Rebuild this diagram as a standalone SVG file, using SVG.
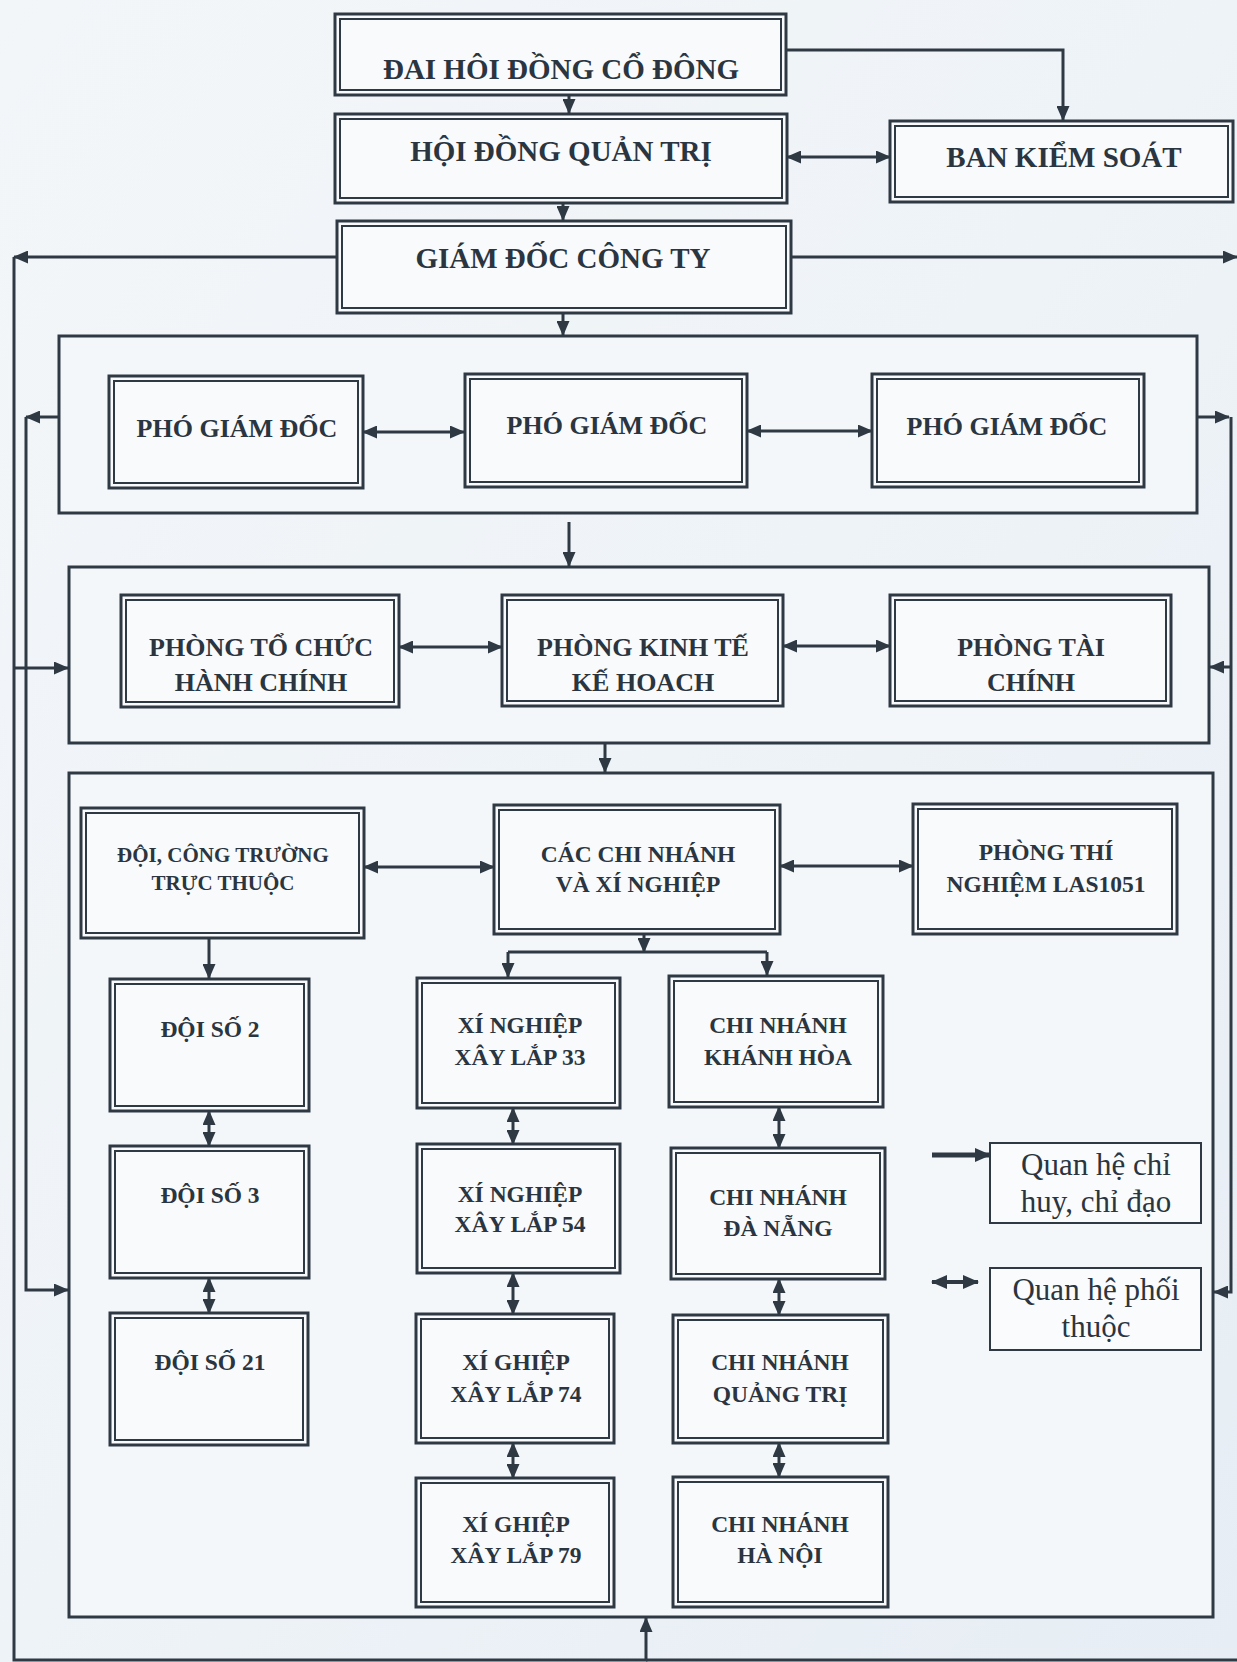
<svg xmlns="http://www.w3.org/2000/svg" width="1237" height="1662" viewBox="0 0 1237 1662">
<defs>
<style>
.o{fill:#f8fafc;stroke:#2e3943;stroke-width:3}
.i{fill:none;stroke:#2e3943;stroke-width:2}
.c{fill:#f4f7fa;stroke:#2e3943;stroke-width:3}
.lb{fill:#f9fbfc;stroke:#2e3943;stroke-width:2}
.t{font-family:"Liberation Serif","Times New Roman",serif;font-weight:bold;fill:#2b353f;text-anchor:middle}
.t1{font-size:29px}
.t2{font-size:26px}
.t3{font-size:23.5px}
.t4{font-size:21px}
.lg{font-family:"Liberation Serif","Times New Roman",serif;font-size:31px;fill:#2b353f;text-anchor:middle}
.ln{fill:none;stroke:#2e3943;stroke-width:3}
.e{marker-end:url(#ah)}
.b{marker-start:url(#ah);marker-end:url(#ah)}
</style>
<linearGradient id="bg" x1="0" y1="0" x2="1" y2="1"><stop offset="0" stop-color="#f3f6f9"/><stop offset="0.5" stop-color="#eef3f7"/><stop offset="1" stop-color="#e6edf4"/></linearGradient>
<marker id="ah" viewBox="0 0 15 13" refX="14" refY="6.5" markerWidth="15" markerHeight="13" markerUnits="userSpaceOnUse" orient="auto-start-reverse"><path d="M0,0L15,6.5L0,13z" fill="#2e3943"/></marker>
<marker id="ahL" viewBox="0 0 16 14" refX="15" refY="7" markerWidth="16" markerHeight="14" markerUnits="userSpaceOnUse" orient="auto-start-reverse"><path d="M0,0L16,7L0,14z" fill="#2e3943"/></marker>
</defs>
<rect x="0" y="0" width="1237" height="1662" fill="url(#bg)"/>

<!-- containers -->
<g id="khoi-pho-giam-doc"><rect class="c" x="59" y="336" width="1138" height="177"/></g>
<g id="khoi-phong-ban"><rect class="c" x="69" y="567" width="1140" height="176"/></g>
<g id="khoi-don-vi"><rect class="c" x="69" y="773" width="1144" height="844"/></g>

<!-- top nodes -->
<g id="dai-hoi"><rect class="o" x="335" y="14" width="451" height="81"/><rect class="i" x="340" y="19" width="441" height="71"/><text class="t t1" x="561" y="79">ĐAI HÔI ĐỒNG CỔ ĐÔNG</text></g>
<g id="hoi-dong-quan-tri"><rect class="o" x="335" y="114" width="452" height="89"/><rect class="i" x="340" y="119" width="442" height="79"/><text class="t t1" x="561" y="161">HỘI ĐỒNG QUẢN TRỊ</text></g>
<g id="ban-kiem-soat"><rect class="o" x="890" y="121" width="343" height="81"/><rect class="i" x="895" y="126" width="333" height="71"/><text class="t t1" x="1064" y="167">BAN KIỂM SOÁT</text></g>
<g id="giam-doc"><rect class="o" x="337" y="221" width="454" height="92"/><rect class="i" x="342" y="226" width="444" height="82"/><text class="t t1" x="563" y="268">GIÁM ĐỐC CÔNG TY</text></g>

<!-- pho giam doc -->
<g id="pgd1"><rect class="o" x="109" y="376" width="254" height="112"/><rect class="i" x="114" y="381" width="244" height="102"/><text class="t t2" x="237" y="437">PHÓ GIÁM ĐỐC</text></g>
<g id="pgd2"><rect class="o" x="465" y="374" width="282" height="113"/><rect class="i" x="470" y="379" width="272" height="103"/><text class="t t2" x="607" y="434">PHÓ GIÁM ĐỐC</text></g>
<g id="pgd3"><rect class="o" x="872" y="374" width="272" height="113"/><rect class="i" x="877" y="379" width="262" height="103"/><text class="t t2" x="1007" y="435">PHÓ GIÁM ĐỐC</text></g>

<!-- phong ban -->
<g id="phong-tchc"><rect class="o" x="121" y="595" width="278" height="112"/><rect class="i" x="126" y="600" width="268" height="102"/><text class="t t2" x="261" y="656">PHÒNG TỔ CHỨC</text><text class="t t2" x="261" y="691">HÀNH CHÍNH</text></g>
<g id="phong-ktkh"><rect class="o" x="502" y="595" width="281" height="111"/><rect class="i" x="507" y="600" width="271" height="101"/><text class="t t2" x="643" y="656">PHÒNG KINH TẾ</text><text class="t t2" x="643" y="691">KẾ HOACH</text></g>
<g id="phong-tc"><rect class="o" x="890" y="595" width="281" height="111"/><rect class="i" x="895" y="600" width="271" height="101"/><text class="t t2" x="1031" y="656">PHÒNG TÀI</text><text class="t t2" x="1031" y="691">CHÍNH</text></g>

<!-- don vi -->
<g id="doi-cong-truong"><rect class="o" x="81" y="808" width="283" height="130"/><rect class="i" x="86" y="813" width="273" height="120"/><text class="t t4" x="223" y="862">ĐỘI, CÔNG TRƯỜNG</text><text class="t t4" x="223" y="890">TRỰC THUỘC</text></g>
<g id="cac-chi-nhanh"><rect class="o" x="494" y="805" width="286" height="129"/><rect class="i" x="499" y="810" width="276" height="119"/><text class="t t3" x="638" y="862">CÁC CHI NHÁNH</text><text class="t t3" x="638" y="892">VÀ XÍ NGHIỆP</text></g>
<g id="phong-thi-nghiem"><rect class="o" x="913" y="804" width="264" height="130"/><rect class="i" x="918" y="809" width="254" height="120"/><text class="t t3" x="1046" y="860">PHÒNG THÍ</text><text class="t t3" x="1046" y="892">NGHIỆM LAS1051</text></g>

<g id="doi-so-2"><rect class="o" x="110" y="979" width="199" height="132"/><rect class="i" x="115" y="984" width="189" height="122"/><text class="t t3" x="210" y="1037">ĐỘI SỐ 2</text></g>
<g id="doi-so-3"><rect class="o" x="110" y="1146" width="199" height="132"/><rect class="i" x="115" y="1151" width="189" height="122"/><text class="t t3" x="210" y="1203">ĐỘI SỐ 3</text></g>
<g id="doi-so-21"><rect class="o" x="110" y="1313" width="198" height="132"/><rect class="i" x="115" y="1318" width="188" height="122"/><text class="t t3" x="210" y="1370">ĐỘI SỐ 21</text></g>

<g id="xn-33"><rect class="o" x="417" y="978" width="203" height="130"/><rect class="i" x="422" y="983" width="193" height="120"/><text class="t t3" x="520" y="1033">XÍ NGHIỆP</text><text class="t t3" x="520" y="1065">XÂY LẮP 33</text></g>
<g id="xn-54"><rect class="o" x="417" y="1144" width="203" height="129"/><rect class="i" x="422" y="1149" width="193" height="119"/><text class="t t3" x="520" y="1202">XÍ NGHIỆP</text><text class="t t3" x="520" y="1232">XÂY LẮP 54</text></g>
<g id="xn-74"><rect class="o" x="416" y="1314" width="198" height="129"/><rect class="i" x="421" y="1319" width="188" height="119"/><text class="t t3" x="516" y="1370">XÍ GHIỆP</text><text class="t t3" x="516" y="1402">XÂY LẮP 74</text></g>
<g id="xn-79"><rect class="o" x="416" y="1478" width="198" height="129"/><rect class="i" x="421" y="1483" width="188" height="119"/><text class="t t3" x="516" y="1532">XÍ GHIỆP</text><text class="t t3" x="516" y="1563">XÂY LẮP 79</text></g>

<g id="cn-khanh-hoa"><rect class="o" x="669" y="976" width="214" height="131"/><rect class="i" x="674" y="981" width="204" height="121"/><text class="t t3" x="778" y="1033">CHI NHÁNH</text><text class="t t3" x="778" y="1065">KHÁNH HÒA</text></g>
<g id="cn-da-nang"><rect class="o" x="671" y="1148" width="214" height="131"/><rect class="i" x="676" y="1153" width="204" height="121"/><text class="t t3" x="778" y="1205">CHI NHÁNH</text><text class="t t3" x="778" y="1236">ĐÀ NẴNG</text></g>
<g id="cn-quang-tri"><rect class="o" x="673" y="1315" width="215" height="128"/><rect class="i" x="678" y="1320" width="205" height="118"/><text class="t t3" x="780" y="1370">CHI NHÁNH</text><text class="t t3" x="780" y="1402">QUẢNG TRỊ</text></g>
<g id="cn-ha-noi"><rect class="o" x="673" y="1477" width="215" height="130"/><rect class="i" x="678" y="1482" width="205" height="120"/><text class="t t3" x="780" y="1532">CHI NHÁNH</text><text class="t t3" x="780" y="1563">HÀ NỘI</text></g>

<!-- legend -->
<g id="chu-giai-chi-huy"><rect class="lb" x="990" y="1143" width="211" height="80"/><text class="lg" x="1096" y="1175">Quan hệ chỉ</text><text class="lg" x="1096" y="1212">huy, chỉ đạo</text></g>
<g id="chu-giai-phoi-thuoc"><rect class="lb" x="990" y="1268" width="211" height="82"/><text class="lg" x="1096" y="1300">Quan hệ phối</text><text class="lg" x="1096" y="1337">thuộc</text></g>

<!-- connectors -->
<g id="connectors">
<path class="ln e" d="M569,95V113"/>
<path class="ln e" d="M786,50H1063V120"/>
<path class="ln b" d="M787,157H890"/>
<path class="ln e" d="M563,203V220"/>
<path class="ln e" d="M336,257H14"/>
<path class="ln e" d="M791,257H1237"/>
<path class="ln e" stroke-width="3.5" d="M14,257V1660H646V1618"/>
<path class="ln" d="M646,1660H1237"/>
<path class="ln e" d="M563,313V335"/>
<path class="ln b" d="M363,432H464"/>
<path class="ln b" d="M747,431H872"/>
<path class="ln e" d="M569,522V566"/>
<path class="ln b" d="M399,647H502"/>
<path class="ln b" d="M783,646H890"/>
<path class="ln e" d="M605,743V772"/>
<path class="ln e" d="M58,417H26"/>
<path class="ln e" d="M26,417V1290H68"/>
<path class="ln e" d="M14,668H68"/>
<path class="ln e" d="M1197,417H1229"/>
<path class="ln e" d="M1231,417V1292H1214"/>
<path class="ln e" d="M1231,667H1210"/>
<path class="ln b" d="M364,867H494"/>
<path class="ln b" d="M780,866H913"/>
<path class="ln e" d="M209,938V978"/>
<path class="ln b" d="M209,1111V1146"/>
<path class="ln b" d="M209,1278V1313"/>
<path class="ln e" d="M644,934V952"/>
<path class="ln" d="M508,952H767"/>
<path class="ln e" d="M508,952V977"/>
<path class="ln e" d="M767,952V975"/>
<path class="ln b" d="M513,1108V1144"/>
<path class="ln b" d="M513,1273V1314"/>
<path class="ln b" d="M513,1443V1478"/>
<path class="ln b" d="M779,1107V1148"/>
<path class="ln b" d="M779,1279V1315"/>
<path class="ln b" d="M779,1443V1477"/>
<path fill="none" stroke="#2e3943" stroke-width="5" marker-end="url(#ahL)" d="M932,1155H990"/>
<path fill="none" stroke="#2e3943" stroke-width="4" marker-start="url(#ahL)" marker-end="url(#ahL)" d="M932,1282H978"/>
</g>
</svg>
